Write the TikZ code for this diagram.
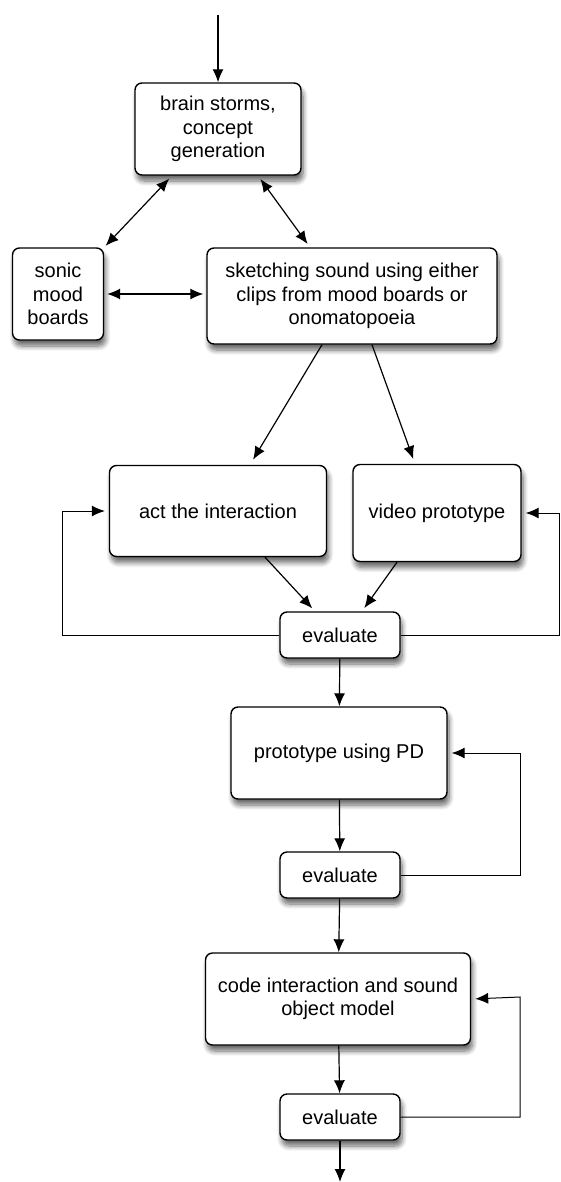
\documentclass[tikz,border=0pt]{standalone}
\usepackage{fontspec}
\setmainfont{Liberation Sans}
\usetikzlibrary{arrows.meta}
\usetikzlibrary{shadows.blur}
\tikzset{
	stage/.style={draw, line width=1.4pt, rounded corners=7pt, fill=white, align=center, inner sep=0pt,
		font=\fontsize{20}{23.5}\selectfont,
		blur shadow={shadow xshift=2pt, shadow yshift=-6pt, shadow opacity=60, shadow blur steps=8, shadow blur radius=5pt}},
	flow/.style={line width=1.2pt, -{Latex[length=13pt,width=11pt]}},
	twoway/.style={line width=1.2pt, {Latex[length=13pt,width=11pt]}-{Latex[length=13pt,width=11pt]}},
	back/.style={line width=1pt, -{Latex[length=13pt,width=11pt]}}
}

\begin{document}
\begin{tikzpicture}[x=1pt, y=-1pt]
	% page is 560 x 1182, y grows downwards
	\useasboundingbox (0,0) rectangle (560,1182);
	
	% idea stage
	\coordinate (start) at (218,15);
	\node[stage, minimum width=166pt, minimum height=92pt] (brain) at (218,129) {brain storms,\\concept\\generation};
	\node[stage, minimum width=91pt, minimum height=92pt] (moodboard) at (58,294) {sonic\\mood\\boards};
	\node[stage, minimum width=290pt, minimum height=96pt] (sketch) at (352,296) {sketching sound using either\\clips from mood boards or\\onomatopoeia};
	
	% first prototypes
	\node[stage, minimum width=217pt, minimum height=91pt] (act) at (218,511) {act the interaction};
	\node[stage, minimum width=168pt, minimum height=97pt] (video) at (437,513) {video prototype};
	\node[stage, minimum width=120pt, minimum height=46pt] (evalA) at (340,635) {evaluate};
	
	% PD prototype
	\node[stage, minimum width=216pt, minimum height=92pt] (pd) at (339,753) {prototype using PD};
	\node[stage, minimum width=120pt, minimum height=46pt] (evalB) at (340,875) {evaluate};
	
	% coded model
	\node[stage, minimum width=265pt, minimum height=92pt] (code) at (338,999) {code interaction and sound\\object model};
	\node[stage, minimum width=120pt, minimum height=46pt] (evalC) at (340,1117) {evaluate};
	\coordinate (finish) at (340,1182);
	
	% turning points of the loops
	\coordinate (loopL) at (62,511);
	\coordinate (loopR) at (559,513);
	\coordinate (loopB) at (520,753);
	\coordinate (loopC) at (520,997);
	
	% connectors
	\draw[flow] (start) -- (brain);
	\draw[twoway, shorten <=4pt, shorten >=2pt] ([xshift=-46pt]brain.south) -- (moodboard.north east);
	\draw[twoway, shorten <=4pt, shorten >=4pt] ([xshift=40pt]brain.south) -- ([xshift=-42pt]sketch.north);
	\draw[twoway, shorten <=3pt, shorten >=3pt] (moodboard.east) -- (moodboard.east -| sketch.west);
	\draw[flow, shorten >=6pt] ([xshift=-30pt]sketch.south) -- ([xshift=32pt]act.north);
	\draw[flow, shorten >=5pt] ([xshift=20pt]sketch.south) -- ([xshift=-22pt]video.north);
	\draw[flow, shorten >=4pt] ([xshift=47pt]act.south) -- ([xshift=-25pt]evalA.north);
	\draw[flow, shorten >=4pt] ([xshift=-40pt]video.south) -- ([xshift=22pt]evalA.north);
	\draw[back, shorten >=4pt] (evalA.west) -| (loopL) -- (act.west);
	\draw[back, shorten >=4pt] (evalA.east) -| (loopR) -- (video.east);
	\draw[flow] (evalA) -- (pd);
	\draw[flow] (pd) -- (evalB);
	\draw[back, shorten >=4pt] (evalB.east) -| (loopB) -- (pd.east);
	\draw[flow] (evalB) -- (code);
	\draw[flow] (code) -- (evalC);
	\draw[back, shorten >=4pt] (evalC.east) -| (loopC) -- (code.east);
	\draw[flow] (evalC) -- (finish);
\end{tikzpicture}
\end{document}
